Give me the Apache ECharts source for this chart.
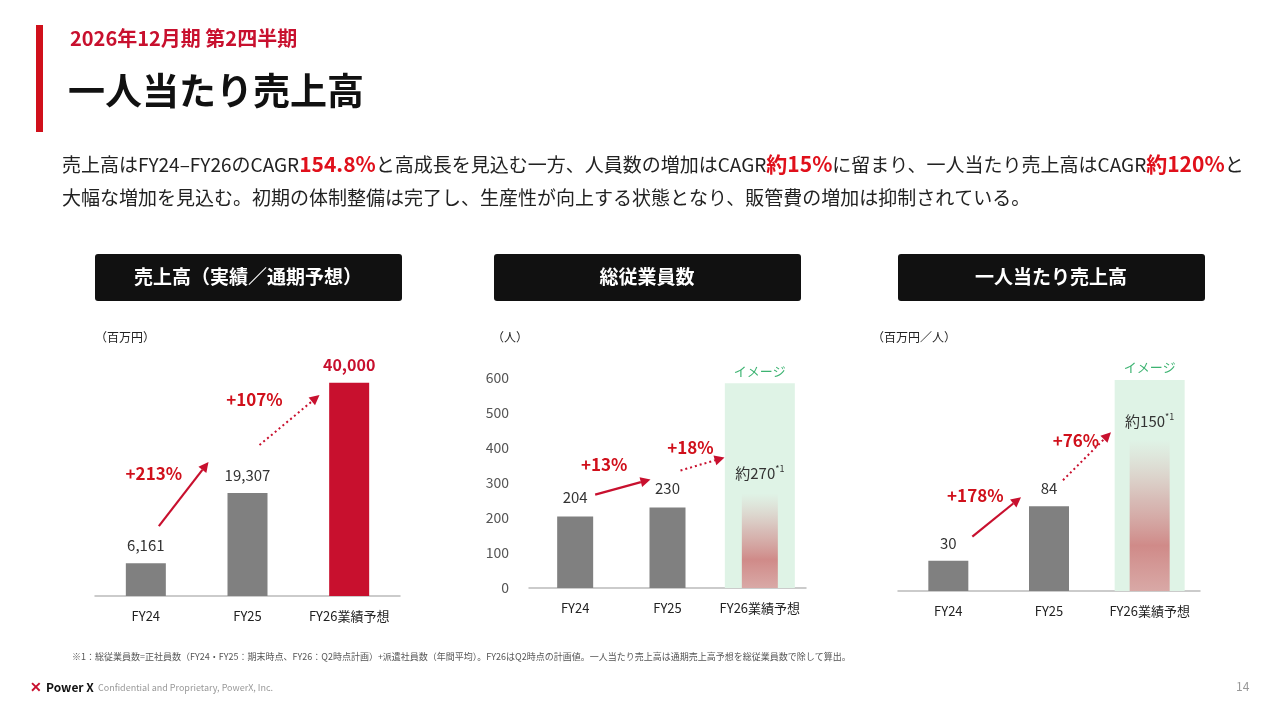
<!DOCTYPE html>
<html><head><meta charset="utf-8">
<script src="https://cdn.jsdelivr.net/npm/echarts@6/dist/echarts.min.js"></script>
<style>html,body{margin:0;padding:0;background:#fff}#c{width:1280px;height:720px}</style>
</head><body><div id="c"></div>
<script>
const categories = ['FY24','FY25','FY26業績予想'];
const salesValues = [6161, 19307, 40000];
const salesLabels = ['6,161','19,307','40,000'];
const staffValues = [204, 230, 270];
const staffLabels = ['204','230','約270'];
const perValues = [30, 84, 150];
const perLabels = ['30','84','約150'];
const staffTicks = [0,100,200,300,400,500,600];
const growthSales = ['+213%','+107%'];
const growthStaff = ['+13%','+18%'];
const growthPer = ['+178%','+76%'];
const imageBg = {staff: 585, per: 209};

const F = '"Noto Sans CJK JP","Noto Sans",sans-serif';
const RED = '#c8102e', GRAY = '#808080';
const chart = echarts.init(document.getElementById('c'));

const grids = [
  {left:95, right:880, top:356, bottom:124},
  {left:529, right:474, top:378, bottom:132},
  {left:898, right:80, top:379, bottom:129}
];
function xA(i){return {type:'category', gridIndex:i, data:categories,
  axisLine:{lineStyle:{color:'#bbb',width:1.5}}, axisTick:{show:false},
  axisLabel:{color:'#222', fontFamily:F, fontSize:13, margin:14, interval:0}};}
function xHidden(i){return {type:'category', gridIndex:i, data:categories, show:false};}
const gradient = new echarts.graphic.LinearGradient(0,0,0,1,[
  {offset:0,color:'rgba(220,170,170,0)'},{offset:0.4,color:'rgba(210,150,150,0.6)'},
  {offset:0.7,color:'rgba(205,120,120,0.85)'},{offset:1,color:'rgba(215,150,150,0.8)'}]);
function labelFor(labels, red){
  return {show:true, position:'top', distance:10, fontFamily:F, fontSize:15, color:'#333',
    formatter:p=>labels[p.dataIndex]+(p.dataIndex===2&&!red?'{s|*1}':''),
    rich:{s:{fontSize:9, color:'#333', verticalAlign:'top', padding:[0,0,8,0]}}};
}
const bgLabel = {show:true, position:'top', distance:6, color:'#3cb371', fontFamily:F, fontSize:13, formatter:'イメージ'};
const series = [
  {type:'bar', xAxisIndex:0, yAxisIndex:0, barWidth:40,
   data: salesValues.map((v,i)=>({value:v, itemStyle:{color:i===2?RED:GRAY},
     label:i===2?{color:RED, fontWeight:'bold', fontSize:16}:{}})),
   label:labelFor(salesLabels, true)},
  {type:'bar', xAxisIndex:3, yAxisIndex:1, barWidth:70, silent:true,
   data:[null,null,{value:imageBg.staff, itemStyle:{color:'#dff3e6'}}], label:bgLabel, z:1},
  {type:'bar', xAxisIndex:1, yAxisIndex:1, barWidth:36,
   data: staffValues.map((v,i)=>({value:v, itemStyle:{color:i===2?gradient:GRAY}})),
   label:Object.assign(labelFor(staffLabels,false),{distance:12}), z:2},
  {type:'bar', xAxisIndex:4, yAxisIndex:2, barWidth:70, silent:true,
   data:[null,null,{value:imageBg.per, itemStyle:{color:'#dff3e6'}}], label:bgLabel, z:1},
  {type:'bar', xAxisIndex:2, yAxisIndex:2, barWidth:40,
   data: perValues.map((v,i)=>({value:v, itemStyle:{color:i===2?gradient:GRAY}})),
   label:labelFor(perLabels,false), z:2}
];
const opt = {
  animation:false,
  grid:grids,
  xAxis:[xA(0),xA(1),xA(2),xHidden(1),xHidden(2)],
  yAxis:[
    {type:'value', gridIndex:0, min:0, max:45000, show:false},
    {type:'value', gridIndex:1, min:0, max:600, interval:100, splitLine:{show:false},
     axisLabel:{color:'#555', fontFamily:F, fontSize:14, margin:20}},
    {type:'value', gridIndex:2, min:0, max:210, show:false}
  ],
  series:series
};
chart.setOption(opt);

const g = [];
function txt(x,y,text,style){g.push({type:'text',left:x,top:y,style:Object.assign({text:text,fontFamily:F,fill:'#222',fontSize:14},style)});}
g.push({type:'rect',shape:{x:36,y:25,width:7,height:107},style:{fill:'#d0101b'}});
txt(70,28,'2026年12月期 第2四半期',{fill:RED,fontSize:20,fontWeight:'bold'});
txt(68,72,'一人当たり売上高',{fill:'#111',fontSize:37,fontWeight:'bold'});
g.push({type:'text',left:62,top:148,style:{fontFamily:F,fontSize:19,fill:'#222',lineHeight:33,
  text:'売上高はFY24–FY26のCAGR{r|154.8%}と高成長を見込む一方、人員数の増加はCAGR{r|約15%}に留まり、一人当たり売上高はCAGR{r|約120%}と\n大幅な増加を見込む。初期の体制整備は完了し、生産性が向上する状態となり、販管費の増加は抑制されている。',
  rich:{r:{fill:'#e0101b',fontWeight:'bold',fontSize:21,fontFamily:F}}}});
[[95,'売上高（実績／通期予想）'],[494,'総従業員数'],[898,'一人当たり売上高']].forEach(([x,t])=>{
  g.push({type:'rect',shape:{x:x,y:254,width:307,height:47,r:3},style:{fill:'#111'}});
  g.push({type:'text',x:x+153,y:277,style:{text:t,fill:'#fff',fontFamily:F,fontSize:19,fontWeight:'bold',align:'center',verticalAlign:'middle'}});
});
txt(95,331,'（百万円）',{fontSize:12});
txt(492,331,'（人）',{fontSize:12});
txt(872,331,'（百万円／人）',{fontSize:12});
txt(72,652,'※1：総従業員数=正社員数（FY24・FY25：期末時点、FY26：Q2時点計画）+派遣社員数（年間平均）。FY26はQ2時点の計画値。一人当たり売上高は通期売上高予想を総従業員数で除して算出。',{fontSize:9,fill:'#555'});
txt(30,680,'✕',{fontSize:14,fill:RED,fontWeight:'bold'});
txt(46,681,'Power X',{fontSize:12,fontWeight:'bold',fill:'#111'});
txt(98,683,'Confidential and Proprietary, PowerX, Inc.',{fontSize:9,fill:'#999'});
txt(1236,680,'14',{fontSize:12,fill:'#999'});

function tp(gi,i,v){return chart.convertToPixel({xAxisIndex:gi,yAxisIndex:gi},[i,v]);}
function arrow(p1,p2,dotted){
  const a=Math.atan2(p2[1]-p1[1],p2[0]-p1[0]), L=10, W=5;
  const bx=p2[0]-L*Math.cos(a), by=p2[1]-L*Math.sin(a);
  g.push({type:'line',shape:{x1:p1[0],y1:p1[1],x2:bx,y2:by},style:{stroke:RED,lineWidth:dotted?2:2.2,lineDash:dotted?[2,3]:null}});
  g.push({type:'polygon',shape:{points:[[p2[0],p2[1]],[bx+W*Math.sin(a),by-W*Math.cos(a)],[bx-W*Math.sin(a),by+W*Math.cos(a)]]},style:{fill:RED}});
}
function glab(p,t){g.push({type:'text',x:p[0],y:p[1],style:{text:t,fill:'#d0101b',fontFamily:F,fontSize:17,fontWeight:'bold',align:'center',verticalAlign:'middle'}});}
let a=tp(0,0,salesValues[0]), b=tp(0,1,salesValues[1]);
arrow([a[0]+13,a[1]-37],[b[0]-39,b[1]-31],false); glab([a[0]+8,a[1]-90],growthSales[0]);
arrow([b[0]+12,b[1]-48],[b[0]+72,b[1]-98],true); glab([b[0]+7,b[1]-93],growthSales[1]);
a=tp(1,0,staffValues[0]); b=tp(1,1,staffValues[1]);
arrow([a[0]+20,a[1]-22],[b[0]-17,b[1]-28],false); glab([a[0]+29,a[1]-52],growthStaff[0]);
arrow([b[0]+13,b[1]-37],[b[0]+57,b[1]-50],true); glab([b[0]+23,b[1]-60],growthStaff[1]);
a=tp(2,0,perValues[0]); b=tp(2,1,perValues[1]);
arrow([a[0]+24,a[1]-24],[b[0]-28,b[1]-9],false); glab([a[0]+27,a[1]-65],growthPer[0]);
arrow([b[0]+14,b[1]-26],[b[0]+62,b[1]-74],true); glab([b[0]+27,b[1]-66],growthPer[1]);

chart.setOption({graphic:g});
</script></body></html>
